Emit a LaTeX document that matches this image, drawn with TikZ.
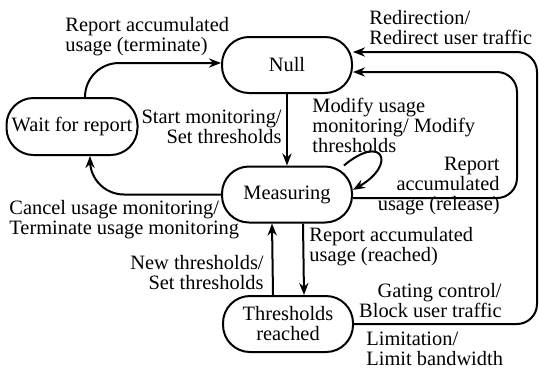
\documentclass[tikz,border=0pt]{standalone}
\usepackage{fontspec}
\setmainfont{Liberation Serif}
\usetikzlibrary{arrows.meta}
\begin{document}
\begin{tikzpicture}[x=0.5pt,y=-0.5pt]

    \tikzset{
      state/.style={
        draw,
        line width=1pt,
        rounded corners=13.5pt,
        minimum width=65pt,
        minimum height=28pt,
        inner sep=1pt,
        align=center,
        font=\fontsize{10.2}{10}\selectfont,
      },
      trans/.style={
        line width=1pt,
        -{Stealth[length=6pt,width=4.6pt]},
      },
      lbl/.style={
        inner sep=0pt,
        font=\fontsize{10.2}{10}\selectfont,
      },
    }
    \useasboundingbox (0,0) rectangle (539,371);

    \node[state] (null) at (287,65) {Null};
    \node[state] (meas) at (287,194.5) {Measuring};
    \node[state] (thr) at (288,324) {Thresholds\\reached};
    \node[state, minimum width=65.5pt, minimum height=28.5pt] (wait) at (72,126.5) {Wait for report};

	\draw[trans] (null.south) -- (meas.north);
	\draw[trans] ([xshift=8pt]meas.south) -- ([xshift=8pt]thr.north);
	\draw[trans] ([xshift=-7.5pt]thr.north) -- ([xshift=-7.5pt]meas.south);
	\draw[trans] (meas.27) to[out=40, in=30, looseness=5] (meas.4);
	\draw[trans, rounded corners=17pt] (meas.west) -| ([xshift=9pt]wait.south);
	\draw[trans, rounded corners=17pt] ([xshift=6.5pt]wait.north) |- ([yshift=1pt]null.west);
	\draw[trans, rounded corners=10pt] ([yshift=-1.75pt]meas.east) -| (517,72) -- ([yshift=-3.5pt]null.east);
	\draw[trans, rounded corners=10pt] (thr.east) -| (537,52) -- ([yshift=6.5pt]null.east);

	\node[lbl, anchor=north west, align=left] (l1) at (65,17) {Report accumulated\\usage (terminate)};
	\node[lbl, anchor=north west, align=left] (l2) at (369,10) {Redirection/\\Redirect user traffic};
	\node[lbl, anchor=north east, align=right] (l3) at (282,110) {Start monitoring/\\Set thresholds};
	\node[lbl, anchor=north west, align=left] (l4) at (312,98) {Modify usage\\monitoring/ Modify\\thresholds};
	\node[lbl, anchor=north east, align=right] (l5) at (500,157) {Report\\accumulated\\usage (release)};
	\node[lbl, anchor=north west, align=left] (l6) at (9,200) {Cancel usage monitoring/\\Terminate usage monitoring};
	\node[lbl, anchor=north east, align=right] (l7) at (264,255) {New thresholds/\\Set thresholds};
	\node[lbl, anchor=north west, align=left] (l8) at (309,227) {Report accumulated\\usage (reached)};
	\node[lbl, anchor=north east, align=right] (l9) at (502,283) {Gating control/\\Block user traffic};
	\node[lbl, anchor=north west, align=left] (l10) at (366,332) {Limitation/\\Limit bandwidth};

\end{tikzpicture}
\end{document}
